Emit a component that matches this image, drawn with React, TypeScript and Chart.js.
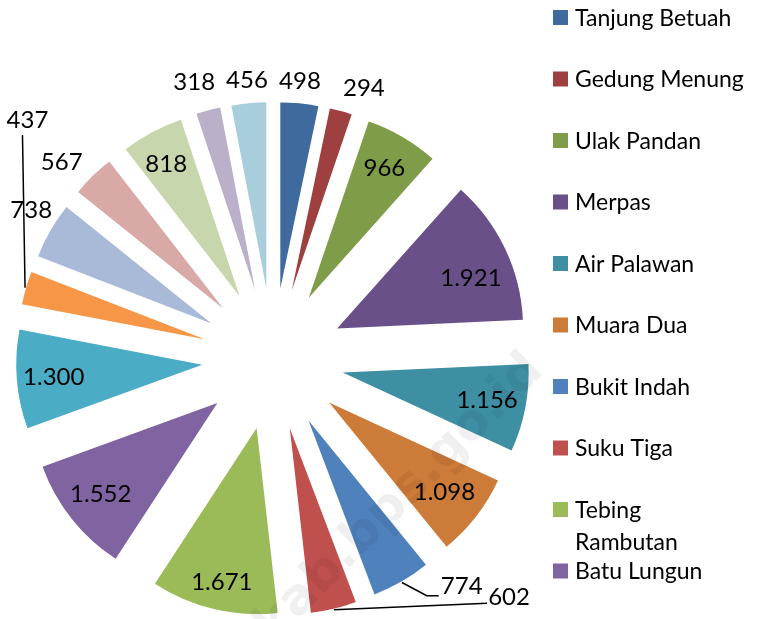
import React, { useEffect, useRef } from "react";
import { Chart, registerables } from "chart.js";

Chart.register(...registerables);

// ---- data ----
const categories = [
  "Tanjung Betuah",
  "Gedung Menung",
  "Ulak Pandan",
  "Merpas",
  "Air Palawan",
  "Muara Dua",
  "Bukit Indah",
  "Suku Tiga",
  "Tebing Rambutan",
  "Batu Lungun",
  "Sinar Banten",
  "Pasar Baru",
  "Tri Jaya",
  "Sulauwangi",
  "Gedung Sako",
  "Sumber Harapan",
  "Tanjung Baru",
];
const values = [498, 294, 966, 1921, 1156, 1098, 774, 602, 1671, 1552, 1300, 437, 738, 567, 818, 318, 456];

// ---- styles ----
const colors = [
  "#3F6A9D", "#9E4040", "#7F9C48", "#695089", "#3E8FA4", "#CC7B38",
  "#4F81BD", "#C0504D", "#9BBB59", "#8064A2", "#4BACC6", "#F79646",
  "#A9B9D8", "#D9A9A8", "#C7D6AD", "#BAB0CA", "#A8CEDC",
];
const VISIBLE_LEGEND = 10; // reference legend is cut off after 10 entries
const legendWrap: Record<string, string[]> = { "Tebing Rambutan": ["Tebing", "Rambutan"] };

// label placement: distance from the slice apex (px) and angle shift (deg)
const labelDist = [208, 215, 150, 143, 147, 146, 226, 277, 158, 148, 149, 282, 213, 218, 151, 217, 209];
const labelShift = [-0.5, 4.3, 0, 4.8, -0.3, 0, -12.7, -38.7, -0.6, 0.4, -0.3, 35, 2.2, -3.3, -1, -1.7, 0.1];
const leaders: Record<number, { dx: number; dy: number; elbow: number }> = {
  6: { dx: -23, dy: 9, elbow: 12 },
  7: { dx: -22, dy: 6, elbow: 0 },
  11: { dx: -5, dy: 15, elbow: 0 },
};

const W = 763;
const H = 619;
const CX = 273;
const CY = 359;
const RADIUS = 186;
const EXPLODE = 71;
const FONT = "Lato, 'Open Sans', sans-serif";
const LABEL_SIZE = 24;
const LEGEND_SIZE = 23;

function fmt(v: number): string {
  return String(v).replace(/\B(?=(\d{3})+(?!\d))/g, ".");
}

const explodePlugin = {
  id: "explode",
  afterDatasetsUpdate(chart: any) {
    const meta = chart.getDatasetMeta(0);
    meta.data.forEach((arc: any) => {
      const mid = (arc.startAngle + arc.endAngle) / 2;
      arc.x += EXPLODE * Math.cos(mid);
      arc.y += EXPLODE * Math.sin(mid);
    });
  },
};

const labelPlugin = {
  id: "labels",
  afterDatasetsDraw(chart: any) {
    const ctx: CanvasRenderingContext2D = chart.ctx;
    const meta = chart.getDatasetMeta(0);
    // faint watermark of the source
    ctx.save();
    ctx.translate(545, 372);
    ctx.rotate(-Math.PI / 4);
    ctx.font = `bold 50px 'DejaVu Sans', sans-serif`;
    ctx.fillStyle = "rgba(0,0,0,0.06)";
    ctx.textAlign = "right";
    ctx.textBaseline = "alphabetic";
    ctx.fillText("kaurkab.bps.go.id", 0, 0);
    ctx.restore();

    ctx.save();
    ctx.font = `${LABEL_SIZE}px ${FONT}`;
    ctx.fillStyle = "#000";
    ctx.textAlign = "center";
    ctx.textBaseline = "middle";
    meta.data.forEach((arc: any, i: number) => {
      const mid = (arc.startAngle + arc.endAngle) / 2;
      const a = mid + (labelShift[i] * Math.PI) / 180;
      const lx = arc.x + labelDist[i] * Math.cos(a);
      const ly = arc.y + labelDist[i] * Math.sin(a);
      const ld = leaders[i];
      if (ld) {
        const sx = arc.x + (RADIUS + 1) * Math.cos(mid);
        const sy = arc.y + (RADIUS + 1) * Math.sin(mid);
        const ex = lx + ld.dx;
        const ey = ly + ld.dy;
        ctx.beginPath();
        ctx.moveTo(sx, sy);
        ctx.lineTo(ex - ld.elbow, ey);
        if (ld.elbow) ctx.lineTo(ex, ey);
        ctx.strokeStyle = "#000";
        ctx.lineWidth = 1.5;
        ctx.stroke();
      }
      ctx.fillText(fmt(values[i]), lx, ly);
    });
    ctx.restore();
  },
};

const legendPlugin = {
  id: "customLegend",
  afterDraw(chart: any) {
    const ctx: CanvasRenderingContext2D = chart.ctx;
    ctx.save();
    ctx.font = `${LEGEND_SIZE}px ${FONT}`;
    ctx.textAlign = "left";
    ctx.textBaseline = "middle";
    for (let i = 0; i < Math.min(VISIBLE_LEGEND, categories.length); i++) {
      const y = 17.5 + i * 61.5;
      ctx.fillStyle = colors[i];
      ctx.fillRect(553, y - 7.5, 15, 15);
      ctx.fillStyle = "#000";
      const lines = legendWrap[categories[i]] || [categories[i]];
      lines.forEach((t, j) => ctx.fillText(t, 575, y + 1 + j * 32));
    }
    ctx.restore();
  },
};

export default function App() {
  const ref = useRef<HTMLCanvasElement | null>(null);
  useEffect(() => {
    if (!ref.current) return;
    const chart = new Chart(ref.current, {
      type: "pie",
      data: {
        labels: categories,
        datasets: [
          {
            data: values,
            backgroundColor: colors,
            borderWidth: 0,
            radius: RADIUS,
          } as any,
        ],
      },
      options: {
        responsive: false,
        animation: false,
        events: [],
        layout: {
          padding: { left: 0, right: W - 2 * CX, top: 2 * CY - H, bottom: 0 },
        },
        plugins: {
          legend: { display: false },
          tooltip: { enabled: false },
          title: { display: false },
        },
      },
      plugins: [explodePlugin, labelPlugin, legendPlugin],
    });
    return () => chart.destroy();
  }, []);
  return (
    <div style={{ position: "fixed", left: 0, top: 0, width: W, height: H, background: "#fff" }}>
      <canvas ref={ref} width={W} height={H} style={{ display: "block", width: W, height: H }} />
    </div>
  );
}
